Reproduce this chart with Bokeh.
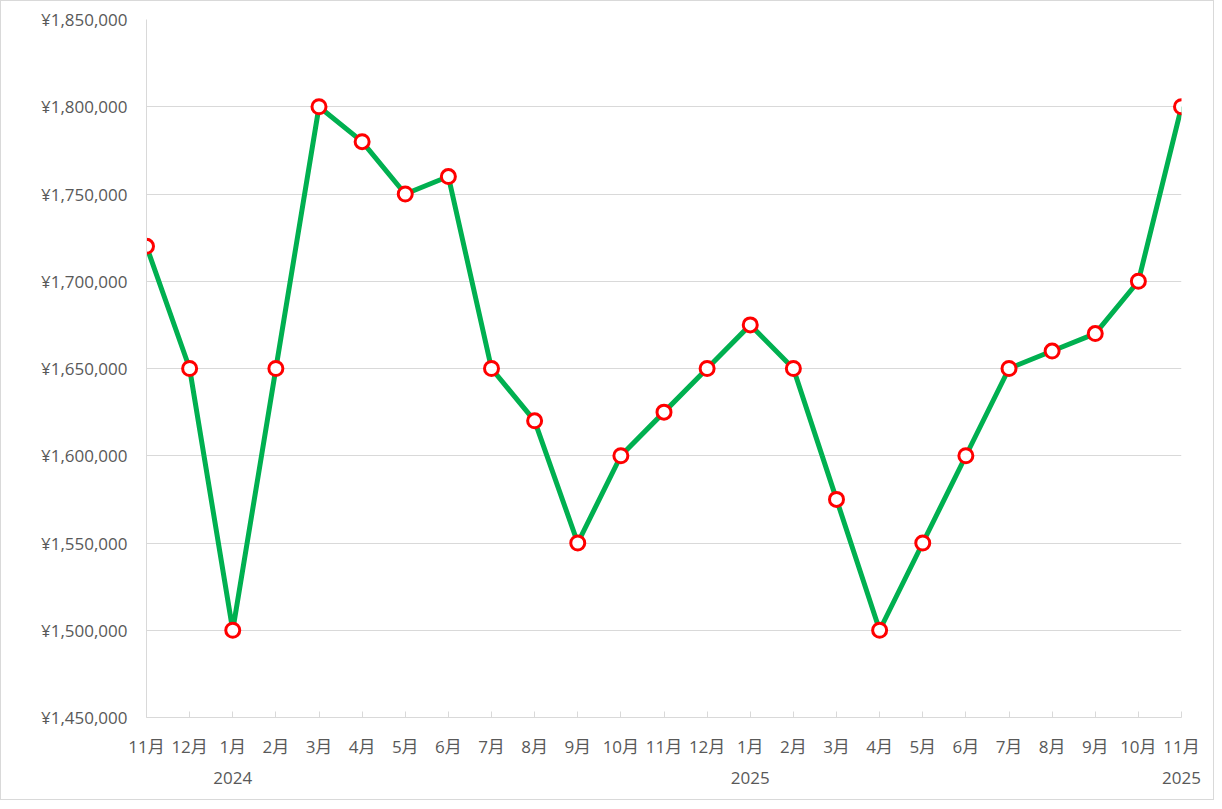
from bokeh.plotting import figure
from bokeh.models import FixedTicker, LinearAxis, Range1d, ColumnDataSource
from bokeh.embed import file_html
from bokeh.resources import INLINE

months = ["11月", "12月", "1月", "2月", "3月", "4月", "5月", "6月", "7月", "8月", "9月", "10月",
          "11月", "12月", "1月", "2月", "3月", "4月", "5月", "6月", "7月", "8月", "9月", "10月", "11月"]
values = [1720000, 1650000, 1500000, 1650000, 1800000, 1780000, 1750000, 1760000, 1650000,
          1620000, 1550000, 1600000, 1625000, 1650000, 1675000, 1650000, 1575000, 1500000,
          1550000, 1600000, 1650000, 1660000, 1670000, 1700000, 1800000]
year_positions = [2, 14, 24]
year_labels = ["2024", "2025", "2025"]
y_ticks = [1450000, 1500000, 1550000, 1600000, 1650000, 1700000, 1750000, 1800000, 1850000]

FONT = "'Open Sans', 'Noto Sans CJK JP'"
FSIZE = "17px"
TXT = "#595959"
GRID = "#d9d9d9"

xs = list(range(len(months)))
src = ColumnDataSource(dict(x=xs, y=values))

p = figure(width=1214, height=800, output_backend="svg", toolbar_location=None,
           x_range=Range1d(0, len(months) - 1), y_range=Range1d(y_ticks[0], y_ticks[-1]),
           min_border_left=145, min_border_top=18, min_border_right=34, min_border_bottom=84,
           x_axis_location=None, y_axis_location=None)
p.outline_line_color = None
p.background_fill_color = "white"
p.border_fill_color = "white"
p.styles = {"border": "1px solid #d9d9d9"}

# Y axis
yax = LinearAxis(ticker=FixedTicker(ticks=y_ticks),
                 major_label_overrides={v: f"¥{v:,}" for v in y_ticks})
yax.axis_line_color = GRID
yax.major_tick_line_color = None
yax.major_tick_out = 0
yax.major_tick_in = 0
yax.minor_tick_line_color = None
yax.major_label_standoff = 19
yax.major_label_text_font = FONT
yax.major_label_text_font_size = FSIZE
yax.major_label_text_color = TXT
p.add_layout(yax, "left")

# X axis (months)
xax = LinearAxis(ticker=FixedTicker(ticks=xs),
                 major_label_overrides={i: m for i, m in enumerate(months)})
xax.axis_line_color = GRID
xax.major_tick_line_color = GRID
xax.major_tick_in = 6
xax.major_tick_out = 0
xax.minor_tick_line_color = None
xax.major_label_standoff = 17
xax.major_label_text_font = FONT
xax.major_label_text_font_size = FSIZE
xax.major_label_text_color = TXT
p.add_layout(xax, "below")

# X axis (years)
yrax = LinearAxis(ticker=FixedTicker(ticks=year_positions),
                  major_label_overrides={pos: lab for pos, lab in zip(year_positions, year_labels)})
yrax.axis_line_color = None
yrax.major_tick_line_color = None
yrax.major_tick_out = 0
yrax.major_tick_in = 0
yrax.minor_tick_line_color = None
yrax.major_label_standoff = 11
yrax.major_label_text_font = FONT
yrax.major_label_text_font_size = FSIZE
yrax.major_label_text_color = TXT
p.add_layout(yrax, "below")

p.xgrid.grid_line_color = None
p.ygrid.ticker = FixedTicker(ticks=y_ticks)
p.ygrid.grid_line_color = GRID
p.ygrid.grid_line_width = 1

p.line("x", "y", source=src, line_color="#00B050", line_width=5)
p.scatter("x", "y", source=src, size=14, fill_color="white", line_color="#FF0000", line_width=3)

open("out.html", "w").write(file_html(p, INLINE))
